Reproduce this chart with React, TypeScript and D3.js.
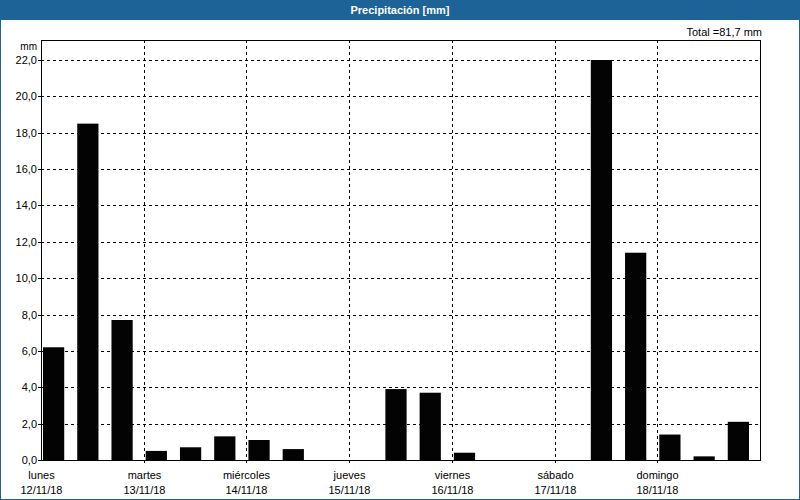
import React from "react";
import * as d3 from "d3";

// 8-hour periods, 3 per day
const days = ["lunes", "martes", "miércoles", "jueves", "viernes", "sábado", "domingo"];
const dates = ["12/11/18", "13/11/18", "14/11/18", "15/11/18", "16/11/18", "17/11/18", "18/11/18"];
const precip = [
  6.2, 18.5, 7.7,
  0.5, 0.7, 1.3,
  1.1, 0.6, 0,
  0, 3.9, 3.7,
  0.4, 0, 0,
  0, 22.0, 11.4,
  1.4, 0.2, 2.1,
];
const yTicks = [0, 2, 4, 6, 8, 10, 12, 14, 16, 18, 20, 22];

const W = 800;
const H = 500;
const plot = { left: 41, right: 760, top: 40, bottom: 460 };
const font = "Tahoma, 'Liberation Sans', Arial, sans-serif";
const blue = "#1e6398";

const fmt = (v: number) => d3.format(".1f")(v).replace(".", ",");

export default function App() {
  const x = d3
    .scaleBand<number>()
    .domain(d3.range(precip.length))
    .range([plot.left, plot.right])
    .paddingInner(0)
    .paddingOuter(0);
  const bw = x.bandwidth();

  const y = d3.scaleLinear().domain([0, 23.1]).range([plot.bottom, plot.top]);

  const total = d3.sum(precip);

  return (
    <svg
      width={W}
      height={H}
      style={{ position: "absolute", left: 0, top: 0, background: "#fff" }}
      fontFamily={font}
    >
      {/* frame + title bar */}
      <rect x={0.5} y={0.5} width={W - 1} height={H - 1} fill="#fff" stroke={blue} strokeWidth={1} />
      <rect x={0} y={0} width={W} height={20} fill={blue} />
      <text x={W / 2} y={14} textAnchor="middle" fill="#fff" fontSize={11} fontWeight="bold">
        Precipitación [mm]
      </text>

      <text x={762} y={36} textAnchor="end" fontSize={11} fill="#000">
        {`Total =${fmt(total)} mm`}
      </text>
      <text x={37} y={50} textAnchor="end" fontSize={10} fill="#000">
        mm
      </text>

      {/* horizontal grid */}
      {yTicks.map((t) => (
        <g key={"y" + t}>
          {t > 0 && (
            <line
              x1={plot.left}
              x2={plot.right}
              y1={Math.round(y(t)) + 0.5}
              y2={Math.round(y(t)) + 0.5}
              stroke="#000"
              strokeDasharray="3,3"
            />
          )}
          <line
            x1={plot.left - 3}
            x2={plot.left}
            y1={Math.round(y(t)) + 0.5}
            y2={Math.round(y(t)) + 0.5}
            stroke="#000"
          />
          <text x={37} y={y(t) + 4} textAnchor="end" fontSize={11} fill="#000">
            {fmt(t)}
          </text>
        </g>
      ))}

      {/* vertical day grid + labels */}
      {days.map((d, i) => {
        const xd = Math.round(x(i * 3)!) + 0.5;
        return (
          <g key={d}>
            {i > 0 && (
              <line x1={xd} x2={xd} y1={plot.top} y2={plot.bottom + 3} stroke="#000" strokeDasharray="3,3" />
            )}
            <text x={xd} y={479} textAnchor="middle" fontSize={11} fill="#000">
              {d}
            </text>
            <text x={xd} y={494} textAnchor="middle" fontSize={11} fill="#000">
              {dates[i]}
            </text>
          </g>
        );
      })}

      {/* bars */}
      {precip.map((v, i) =>
        v > 0 ? (
          <rect
            key={"b" + i}
            x={x(i)! + 2}
            y={y(v)}
            width={bw * 0.62}
            height={y(0) - y(v)}
            fill="#030303"
          />
        ) : null
      )}

      {/* plot box */}
      <rect
        x={plot.left + 0.5}
        y={plot.top + 0.5}
        width={plot.right - plot.left}
        height={plot.bottom - plot.top}
        fill="none"
        stroke="#000"
        strokeWidth={1}
      />
    </svg>
  );
}
